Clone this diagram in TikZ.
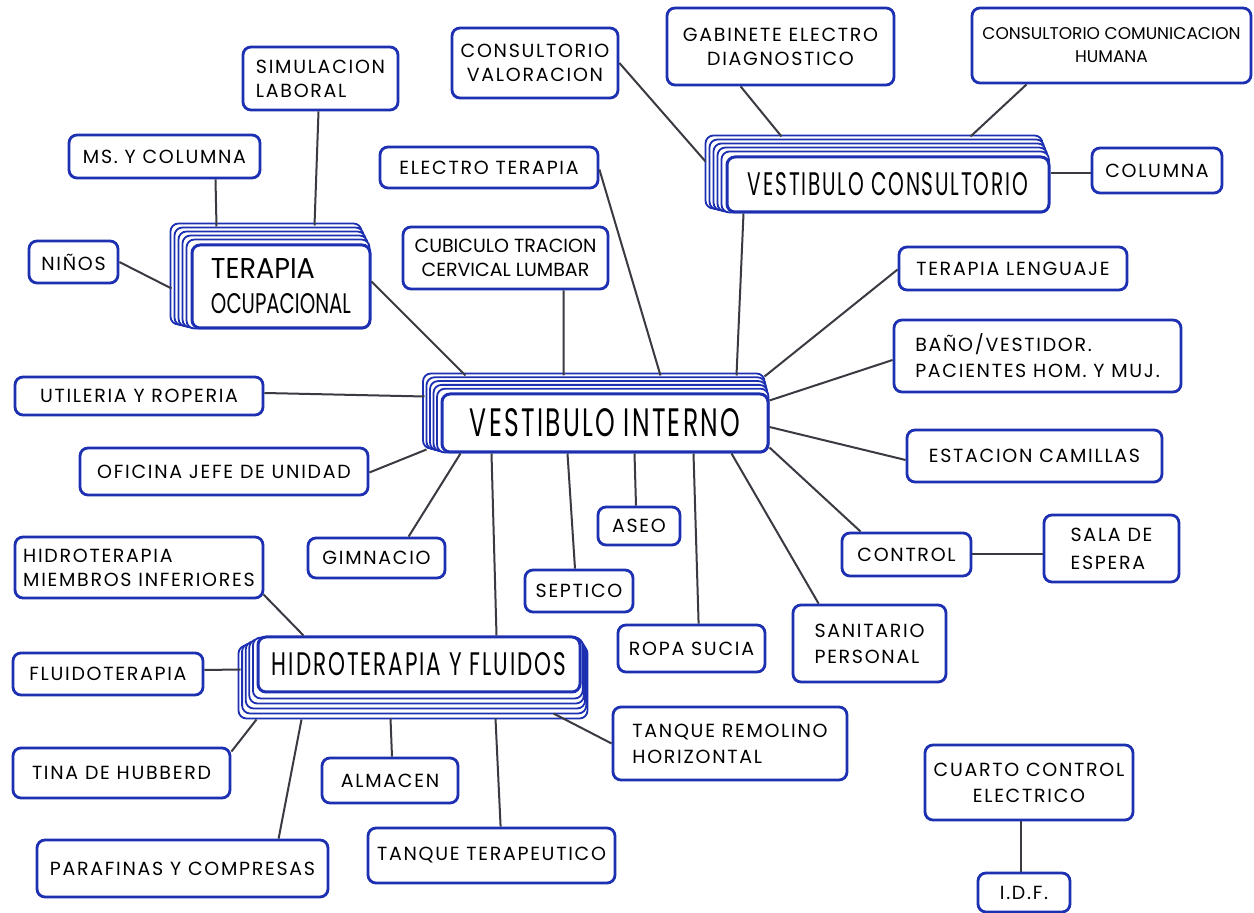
\documentclass[tikz,border=0pt]{standalone}
\usepackage{fontspec}
\usepackage{graphicx}
\setmainfont{Poppins}
\newfontfamily\boxfont{Poppins}[LetterSpace=9]
\usetikzlibrary{calc,backgrounds}
\definecolor{ink}{RGB}{30,48,178}
\definecolor{wiregray}{RGB}{58,58,66}
\begin{document}
\begin{tikzpicture}[x=0.5pt,y=-0.5pt,
  box/.style={draw=ink, line width=1.4pt, rounded corners=4pt, fill=white, inner sep=2pt,
              font=\boxfont\fontsize{9.5}{12}\selectfont, text=black, align=center},
  sz/.style 2 args={minimum width=#1*0.5pt, minimum height=#2*0.5pt},
  page/.style={draw=ink, line width=0.9pt, rounded corners=4pt, fill=white},
  link/.style={draw=wiregray, line width=1pt},
  head/.style={box, line width=1.5pt}]

\useasboundingbox (0,0) rectangle (1254,913);
\begin{scope}[on background layer]
  \fill[white] (0,0) rectangle (1254,913);
\end{scope}

% ---------- main (stacked) nodes ----------
\node[head, sz={326}{58}] (vi) at (605,423) {\resizebox{135pt}{14pt}{VESTIBULO INTERNO}};
\node[head, sz={322}{55}] (vc) at (888,184.5) {\resizebox{140pt}{11.5pt}{VESTIBULO CONSULTORIO}};
\node[head, sz={178}{83}, align=left, font=\fontsize{14}{17.5}\selectfont] (to) at (281,286.5)
  {\resizebox{52pt}{10pt}{TERAPIA}\\\resizebox{70pt}{10pt}{OCUPACIONAL}};
\node[head, sz={322}{55}] (hyf) at (419,664.5) {\resizebox{147pt}{11.5pt}{HIDROTERAPIA Y FLUIDOS}};

\begin{scope}[on background layer]
  \foreach \k in {5,4,3,2,1}{
    \draw[page] ($(vi.north west)+(-3.5*\k,-3.8*\k)$) rectangle ($(vi.south east)+(-1*\k,-1*\k)$);
    \draw[page] ($(vc.north west)+(-4*\k,-4*\k)$) rectangle ($(vc.south east)+(-1.6*\k,-1*\k)$);
    \draw[page] ($(to.north west)+(-4*\k,-4*\k)$) rectangle ($(to.south east)+(-2*\k,-1*\k)$);
    \draw[page] ($(hyf.north west)+(-3.6*\k,2*\k)$) rectangle ($(hyf.south east)+(1.2*\k,5*\k)$);
  }
\end{scope}

% ---------- small nodes ----------
\node[box, sz={155}{63}, align=left] (sim) at (320.5,78.5) {SIMULACION\\LABORAL};
\node[box, sz={191}{43}] (ms) at (164.5,156.5) {MS. Y COLUMNA};
\node[box, sz={89}{42}] (nin) at (73.5,262) {NIÑOS};
\node[box, sz={166}{70}] (cv) at (535,63) {CONSULTORIO\\VALORACION};
\node[box, sz={227}{77}] (ged) at (780.5,46.5) {GABINETE ELECTRO\\DIAGNOSTICO};
\node[box, sz={279}{75}, font=\fontsize{8.5}{11.5}\selectfont] (cch) at (1111.5,45.5) {CONSULTORIO COMUNICACION\\HUMANA};
\node[box, sz={218}{41}] (et) at (489,167.5) {ELECTRO TERAPIA};
\node[box, sz={205}{62}, font=\fontsize{9.5}{12}\selectfont] (cub) at (505.5,258) {CUBICULO TRACION\\CERVICAL LUMBAR};
\node[box, sz={130}{45}] (col) at (1157,170.5) {COLUMNA};
\node[box, sz={228}{43}] (tl) at (1013,268.5) {TERAPIA LENGUAJE};
\node[box, sz={287}{72}, align=left, font=\boxfont\fontsize{9.5}{13}\selectfont] (bv) at (1037.5,356) {BAÑO/VESTIDOR.\\PACIENTES HOM. Y MUJ.};
\node[box, sz={255}{52}] (ec) at (1034.5,456) {ESTACION CAMILLAS};
\node[box, sz={129}{43}] (ctl) at (906.5,554.5) {CONTROL};
\node[box, sz={135}{67}, align=left, font=\boxfont\fontsize{9.5}{14}\selectfont] (sal) at (1111.5,548.5) {SALA DE\\ESPERA};
\node[box, sz={153}{77}, align=left, font=\boxfont\fontsize{9.5}{13}\selectfont] (san) at (869.5,643.5) {SANITARIO\\PERSONAL};
\node[box, sz={82}{38}] (aseo) at (639,526) {ASEO};
\node[box, sz={108}{42}] (sep) at (579,591) {SEPTICO};
\node[box, sz={147}{47}] (rop) at (691.5,648.5) {ROPA SUCIA};
\node[box, sz={137}{40}] (gim) at (376.5,558) {GIMNACIO};
\node[box, sz={248}{38}] (ut) at (139,396) {UTILERIA Y ROPERIA};
\node[box, sz={288}{47}] (of) at (224,471.5) {OFICINA JEFE DE UNIDAD};
\node[box, sz={248}{61}, align=left] (hmi) at (139,567.5) {HIDROTERAPIA\\MIEMBROS INFERIORES};
\node[box, sz={190}{42}] (flu) at (108,674) {FLUIDOTERAPIA};
\node[box, sz={217}{50}] (tin) at (121.5,773) {TINA DE HUBBERD};
\node[box, sz={136}{45}] (alm) at (390,780.5) {ALMACEN};
\node[box, sz={291}{57}] (par) at (182.5,868.5) {PARAFINAS Y COMPRESAS};
\node[box, sz={247}{55}] (tt) at (491.5,855.5) {TANQUE TERAPEUTICO};
\node[box, sz={234}{73}, align=left, font=\boxfont\fontsize{9.5}{13}\selectfont] (trh) at (730,743.5) {TANQUE REMOLINO\\HORIZONTAL};
\node[box, sz={208}{75}, font=\boxfont\fontsize{9.5}{13}\selectfont] (cce) at (1029,782.5) {CUARTO CONTROL\\ELECTRICO};
\node[box, sz={92}{39}] (idf) at (1024,892.5) {I.D.F.};

% ---------- connectors ----------
% Terapia ocupacional
\draw[link] ($(ms.south)+(51,0)$) -- ($(to.north west)+(26,-17)$);
\draw[link] ($(sim.south)+(-2,0)$) -- ($(to.north west)+(124,-18)$);
\draw[link] (nin.east) -- ($(to.north west)+(-19,45)$);
\draw[link] ($(to.north east)+(0,38)$) -- ($(vi.north west)+(25,-17)$);
% Vestibulo consultorio
\draw[link] (cv.east) -- ($(vc.north west)+(-20,6)$);
\draw[link] ($(ged.south west)+(75,0)$) -- ($(vc.north west)+(56,-19)$);
\draw[link] ($(cch.south west)+(56,0)$) -- ($(vc.north west)+(245,-19)$);
\draw[link] ($(vc.east)+(0,-11)$) -- ($(col.west)+(0,3)$);
\draw[link] ($(vc.south west)+(18,0)$) -- ($(vi.north west)+(296,-17)$);
% Vestibulo interno, top
\draw[link] ($(et.east)+(0,2)$) -- ($(vi.north west)+(220,-17)$);
\draw[link] ($(cub.south west)+(162,0)$) -- ($(vi.north west)+(123,-17)$);
% right
\draw[link] ($(tl.west)+(0,1)$) -- ($(vi.north east)+(-5,-16)$);
\draw[link] ($(bv.west)+(0,4)$) -- ($(vi.north east)+(0,8)$);
\draw[link] ($(ec.west)+(0,4)$) -- ($(vi.east)+(0,4)$);
\draw[link] ($(ctl.north west)+(20,0)$) -- ($(vi.south east)+(0,-6)$);
\draw[link] (ctl.east) -- (ctl.east -| sal.west);
\draw[link] ($(san.north west)+(27,0)$) -- ($(vi.south west)+(291,0)$);
% bottom
\draw[link] ($(rop.north west)+(82,0)$) -- ($(vi.south west)+(253,0)$);
\draw[link] ($(aseo.north)+(-3,0)$) -- ($(vi.south west)+(194,0)$);
\draw[link] ($(sep.north)+(-4,0)$) -- ($(vi.south west)+(127,0)$);
\draw[link] ($(gim.north west)+(102,0)$) -- ($(vi.south west)+(20,0)$);
\draw[link] ($(hyf.north west)+(240,0)$) -- ($(vi.south west)+(51,0)$);
% left
\draw[link] ($(ut.east)+(0,-3)$) -- ($(vi.north west)+(-16,4)$);
\draw[link] ($(of.east)+(0,1)$) -- ($(vi.south west)+(-14,-4)$);
% Hidroterapia y fluidos
\draw[link] ($(hmi.south east)+(-1,-5)$) -- ($(hyf.north west)+(47,0)$);
\draw[link] ($(flu.east)+(0,-4)$) -- ($(hyf.west)+(-16,5)$);
\draw[link] ($(tin.north east)+(0,5)$) -- ($(hyf.south west)+(0,26)$);
\draw[link] ($(par.north west)+(243,0)$) -- ($(hyf.south west)+(45,26)$);
\draw[link] ($(alm.north)+(2,0)$) -- ($(hyf.south west)+(134,25)$);
\draw[link] ($(tt.north west)+(134,0)$) -- ($(hyf.south west)+(239,25)$);
\draw[link] (trh.west) -- ($(hyf.south east)+(-28,20)$);
% cuarto control
\draw[link] ($(cce.south)+(-8,0)$) -- ($(idf.north)+(-3,0)$);
\end{tikzpicture}
\end{document}
